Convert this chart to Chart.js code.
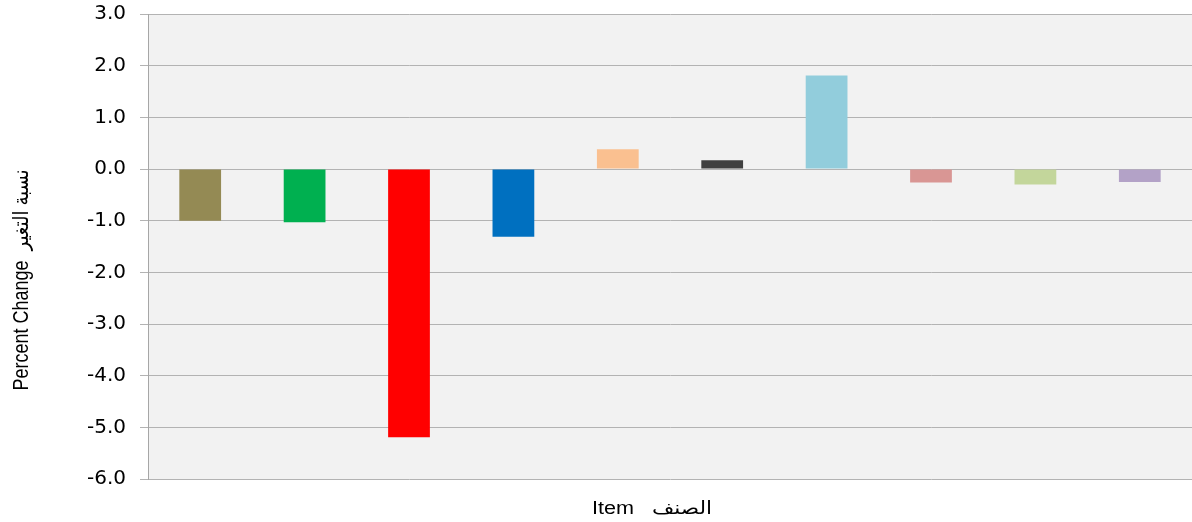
<!DOCTYPE html>
<html>
<head>
<meta charset="utf-8">
<script src="https://cdn.jsdelivr.net/npm/chart.js@4"></script>
<style>
  html, body { margin: 0; padding: 0; background: #fff; }
  #wrap { width: 1192px; height: 522px; }
</style>
</head>
<body>
<div id="wrap"><canvas id="changeChart" width="1192" height="522"></canvas></div>
<script>
// items and their percent change
const items = ["1", "2", "3", "4", "5", "6", "7", "8", "9", "10"];
const changes = [-1.0, -1.03, -5.19, -1.31, 0.38, 0.17, 1.81, -0.26, -0.3, -0.25];
const barColors = ["#948A54", "#00B050", "#FF0000", "#0070C0", "#FAC090",
                   "#404040", "#92CDDC", "#D99694", "#C3D69B", "#B3A2C7"];

// y axis range
const yMin = -6;
const yMax = 3;
const yStep = 1;

const yTitle = "Percent Change  نسبة التغير";
const xTitle = "Item   الصنف";

// grey plot background
const plotBg = {
  id: "plotBg",
  beforeDraw(chart) {
    const { ctx, chartArea: a } = chart;
    ctx.save();
    ctx.fillStyle = "#f2f2f2";
    ctx.fillRect(a.left, a.top, a.right - a.left, a.bottom - a.top);
    ctx.restore();
  }
};

// axis titles, text slightly widened
const axisTitles = {
  id: "axisTitles",
  afterDraw(chart) {
    const ctx = chart.ctx;
    const font = "18px 'Liberation Sans', 'DejaVu Sans', sans-serif";

    ctx.save();
    ctx.fillStyle = "#000";
    ctx.font = font;
    ctx.textAlign = "center";
    ctx.textBaseline = "middle";
    ctx.translate(22, 280);
    ctx.scale(1.2, 1);
    ctx.rotate(-Math.PI / 2);
    ctx.fillText(yTitle, 0, 0);
    ctx.restore();

    ctx.save();
    ctx.fillStyle = "#000";
    ctx.font = font;
    ctx.textAlign = "center";
    ctx.textBaseline = "middle";
    ctx.translate(652, 509);
    ctx.scale(1.2, 1);
    ctx.fillText(xTitle, 0, 0);
    ctx.restore();
  }
};

const ctx = document.getElementById("changeChart").getContext("2d");
new Chart(ctx, {
  type: "bar",
  data: {
    labels: items,
    datasets: [{
      data: changes,
      backgroundColor: barColors,
      borderWidth: 0,
      barPercentage: 0.4,
      categoryPercentage: 1.0
    }]
  },
  options: {
    responsive: false,
    animation: false,
    layout: { padding: { top: 14, right: 0, left: 0, bottom: 0 } },
    plugins: { legend: { display: false }, tooltip: { enabled: false } },
    scales: {
      x: {
        grid: { display: false, drawTicks: false },
        border: { display: false },
        ticks: { display: false },
        afterFit(scale) { scale.height = 43; }
      },
      y: {
        min: yMin,
        max: yMax,
        ticks: {
          stepSize: yStep,
          padding: 14,
          color: "#000",
          font: { family: "'DejaVu Sans', sans-serif", size: 20 },
          callback: v => v.toFixed(1)
        },
        grid: { color: "#b3b3b3", lineWidth: 1, tickLength: 8 },
        border: { color: "#a6a6a6", width: 1 },
        afterFit(scale) {
          scale.width = 148;
          scale.paddingTop = 0;
          scale.paddingBottom = 0;
        }
      }
    }
  },
  plugins: [plotBg, axisTitles]
});
</script>
</body>
</html>
